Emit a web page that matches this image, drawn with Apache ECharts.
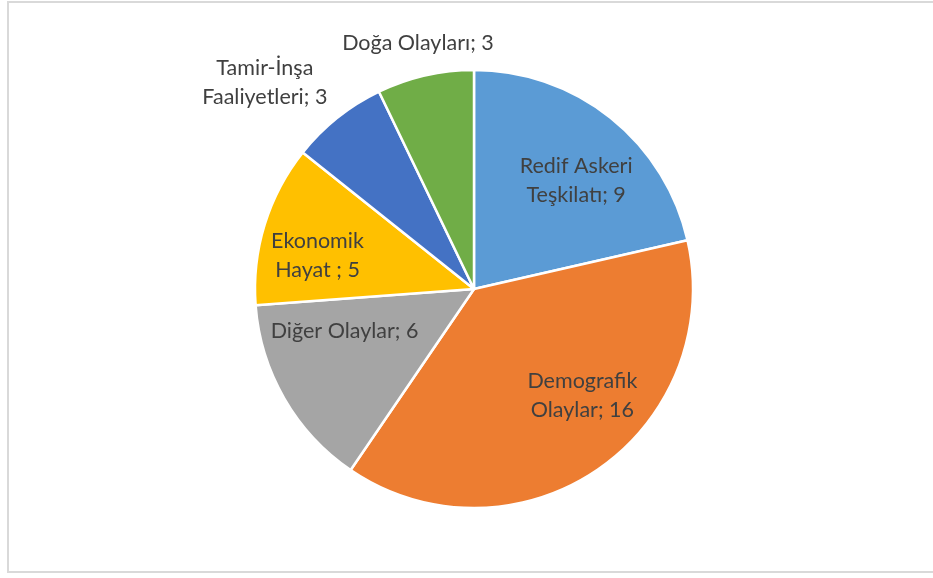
<!DOCTYPE html>
<html>
<head>
<meta charset="utf-8">
<script src="https://cdn.jsdelivr.net/npm/echarts@6/dist/echarts.min.js"></script>
<style>
  html, body { margin: 0; padding: 0; background: #fff; overflow: hidden; }
  #frame {
    position: absolute; left: 7px; top: 1px; width: 960px; height: 572px;
    border: 2px solid #d9d9d9; box-sizing: border-box;
  }
  #chart { position: absolute; left: 0; top: 0; width: 933px; height: 578px; }
</style>
</head>
<body>
<div id="frame"></div>
<div id="chart"></div>
<script>
// slice names (as shown in labels) and counts
const categories = [
  'Redif Askeri\nTeşkilatı',
  'Demografik\nOlaylar',
  'Diğer Olaylar',
  'Ekonomik\nHayat ',
  'Tamir-İnşa\nFaaliyetleri',
  'Doğa Olayları'
]
const counts = [9, 16, 6, 5, 3, 3]
const colors = ['#5b9bd5', '#ed7d31', '#a5a5a5', '#ffc000', '#4472c4', '#70ad47']

// label nudges from the default inside position, per slice
const labelShift = [
  [32, -20],
  [45, 14],
  [-32, -14],
  [-49, 0],
  [-139, -118],
  [-31, -136]
]

const chart = echarts.init(document.getElementById('chart'))

chart.setOption({
  animation: false,
  series: [
    {
      type: 'pie',
      center: [474, 289],
      radius: [0, 219],
      startAngle: 90,
      clockwise: true,
      avoidLabelOverlap: false,
      itemStyle: { borderColor: '#fff', borderWidth: 2.5 },
      label: {
        show: true,
        position: 'inside',
        formatter: '{b}; {c}',
        fontFamily: 'Lato, "Liberation Sans", sans-serif',
        fontSize: 21.5,
        lineHeight: 29,
        color: '#404040'
      },
      labelLine: { show: false },
      emphasis: { disabled: true },
      labelLayout: (params) => {
        const s = labelShift[params.dataIndex]
        return { dx: s[0], dy: s[1] }
      },
      data: categories.map((name, i) => ({
        name,
        value: counts[i],
        itemStyle: { color: colors[i] }
      }))
    }
  ]
})
</script>
</body>
</html>
